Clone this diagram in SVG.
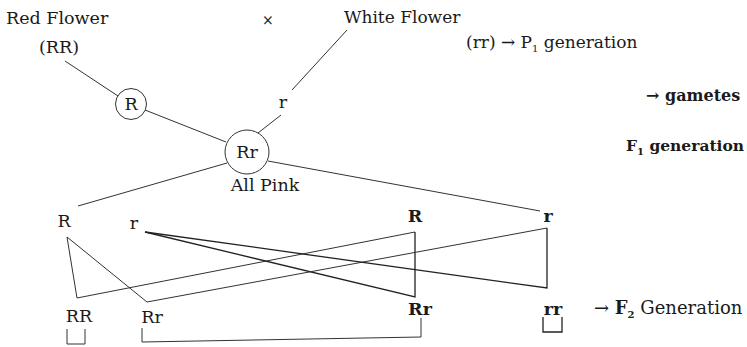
<svg xmlns="http://www.w3.org/2000/svg" width="747" height="347" viewBox="0 0 747 347">
<style>
text{font-family:"DejaVu Serif","Liberation Serif",serif;fill:#1a1a1a;font-size:17.5px}
.b{font-weight:bold}
.ln{stroke:#333;stroke-width:1;fill:none}
.th{stroke:#222;stroke-width:1.3;fill:none}
.c{fill:#fff;stroke:#333;stroke-width:1}
.sub{font-size:10px}
</style>
<rect width="747" height="347" fill="#fff"/>
<g id="connectors">
<line class="ln" x1="65" y1="61" x2="118" y2="96"/>
<line class="ln" x1="145" y1="110" x2="226" y2="142"/>
<line class="ln" x1="347" y1="30" x2="292" y2="90"/>
<line class="ln" x1="281" y1="115" x2="258" y2="133"/>
<line class="ln" x1="227" y1="163" x2="78" y2="206"/>
<line class="ln" x1="268" y1="161" x2="540" y2="211"/>
<polyline class="ln" points="67,237 77,298 415,232"/>
<polyline class="th" points="415,232 415,297 145,232"/>
<polyline class="ln" points="67,237 147,302 547,228"/>
<polyline class="th" points="547,228 547,288 145,232"/>
<polyline class="ln" points="67,329 67,344 85,344 85,329"/>
<polyline class="ln" points="142,328 142,342 421,337 421,318"/>
<polyline class="th" points="543,317 543,332 562,332 562,317"/>
</g>
<g id="title-left"><text x="6" y="24">Red Flower</text><text x="39" y="53">(RR)</text></g>
<g id="cross"><text x="262" y="25" style="font-size:14px">×</text></g>
<g id="title-right"><text x="344" y="23" style="font-size:17px">White Flower</text></g>
<g id="p1"><text x="466" y="48" style="font-size:17px">(rr) → P<tspan class="sub" dy="4">1</tspan><tspan dy="-4"> generation</tspan></text></g>
<g id="gametes"><text class="b" x="646" y="101" style="font-size:16px">→ gametes</text></g>
<g id="f1"><text class="b" x="626" y="151" style="font-size:15.5px">F<tspan class="sub" dy="4">1</tspan><tspan dy="-4"> generation</tspan></text></g>
<g id="node-R"><circle class="c" cx="131" cy="104" r="15.5"/><text x="131" y="110" text-anchor="middle">R</text></g>
<g id="label-r"><text x="283" y="108" text-anchor="middle">r</text></g>
<g id="node-Rr"><circle class="c" cx="247" cy="152" r="22"/><text x="247" y="158" text-anchor="middle">Rr</text><text x="265" y="191" text-anchor="middle">All Pink</text></g>
<g id="g-R1"><text x="64" y="227" text-anchor="middle">R</text></g>
<g id="g-r1"><text x="134" y="229" text-anchor="middle">r</text></g>
<g id="g-R2"><text class="b" x="415" y="222" text-anchor="middle">R</text></g>
<g id="g-r2"><text class="b" x="548" y="222" text-anchor="middle">r</text></g>
<g id="o-RR"><text x="79" y="322" text-anchor="middle">RR</text></g>
<g id="o-Rr1"><text x="152" y="323" text-anchor="middle">Rr</text></g>
<g id="o-Rr2"><text class="b" x="420" y="315" text-anchor="middle">Rr</text></g>
<g id="o-rr"><text class="b" x="553" y="315" text-anchor="middle">rr</text></g>
<g id="f2"><text x="594" y="314" style="font-size:18px">→ <tspan class="b">F</tspan><tspan class="sub b" dy="4">2</tspan><tspan dy="-4"> Generation</tspan></text></g>
</svg>
